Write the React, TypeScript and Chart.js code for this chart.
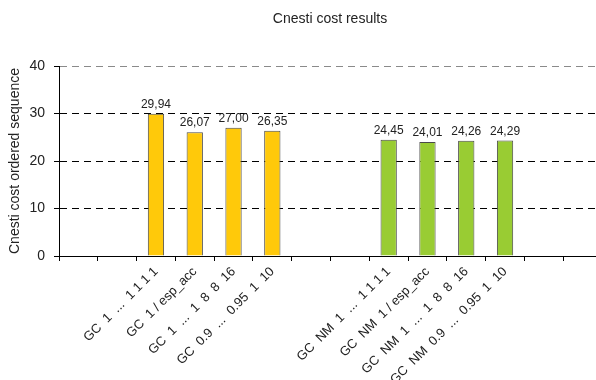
import React, { useEffect, useRef } from "react";
import { Chart, registerables } from "chart.js";

Chart.register(...registerables);

const categories: string[] = [
  "",
  "",
  "GC  1  ...  1 1 1 1",
  "GC  1 / esp_acc",
  "GC  1  ...  1  8  8  16",
  "GC  0.9  ...  0.95  1  10",
  "",
  "",
  "GC  NM  1  ...  1 1 1 1",
  "GC  NM  1 / esp_acc",
  "GC  NM  1  ...  1  8  8  16",
  "GC  NM  0.9  ...  0.95  1  10",
  "",
  "",
];

const gcValues: (number | null)[] = [null, null, 29.94, 26.07, 27.0, 26.35, null, null, null, null, null, null, null, null];
const gcNmValues: (number | null)[] = [null, null, null, null, null, null, null, null, 24.45, 24.01, 24.26, 24.29, null, null];
const yTicks: number[] = [0, 10, 20, 30, 40];

const title = "Cnesti cost results";
const yTitle = "Cnesti cost ordered sequence";

const FONT = "'Liberation Sans', Arial, sans-serif";

const valueLabels = {
  id: "valueLabels",
  afterDatasetsDraw(chart: any) {
    const ctx = chart.ctx;
    ctx.save();
    ctx.font = `12px ${FONT}`;
    ctx.fillStyle = "#222";
    ctx.textAlign = "center";
    ctx.textBaseline = "alphabetic";
    chart.data.datasets.forEach((ds: any, di: number) => {
      const meta = chart.getDatasetMeta(di);
      meta.data.forEach((el: any, i: number) => {
        const v = ds.data[i];
        if (v === null || v === undefined) return;
        ctx.fillText(v.toFixed(2).replace(".", ","), el.x, el.y - 6);
      });
    });
    ctx.restore();
  },
};

export default function App() {
  const ref = useRef<HTMLCanvasElement>(null);
  useEffect(() => {
    if (!ref.current) return;
    const chart = new Chart(ref.current, {
      type: "bar",
      data: {
        labels: categories,
        datasets: [
          {
            data: gcValues,
            backgroundColor: "#FFC90A",
            borderColor: "#4a4a4a",
            borderWidth: 1,
            barPercentage: 0.42,
            categoryPercentage: 1,
            skipNull: true,
          } as any,
          {
            data: gcNmValues,
            backgroundColor: "#99CC33",
            borderColor: "#4a4a4a",
            borderWidth: 1,
            barPercentage: 0.42,
            categoryPercentage: 1,
            skipNull: true,
          } as any,
        ],
      },
      options: {
        animation: false,
        responsive: false,
        layout: { padding: { left: 0, right: 0, top: 0, bottom: 0 } },
        plugins: {
          legend: { display: false },
          tooltip: { enabled: false },
          title: {
            display: true,
            text: title,
            color: "#222",
            font: { family: FONT, size: 14, weight: "normal" },
            padding: { top: 11, bottom: 38.2 },
          },
        },
        scales: {
          x: {
            grid: {
              display: true,
              drawOnChartArea: false,
              drawTicks: true,
              tickLength: 5,
              color: "#000",
              offset: true,
            },
            border: { display: true, color: "#000", width: 1 },
            ticks: {
              autoSkip: false,
              maxRotation: 45,
              minRotation: 45,
              color: "#222",
              padding: 3,
              font: { family: FONT, size: 13 },
            },
            afterFit(scale: any) {
              scale.height = 124;
            },
          },
          y: {
            min: 0,
            max: 40,
            afterBuildTicks(scale: any) {
              scale.ticks = yTicks.map((v) => ({ value: v }));
            },
            grid: {
              color: (c: any) => (c.tick && c.tick.value === 40 ? "#8a8a8a" : "#000"),
              tickColor: "#000",
              tickLength: 5,
              tickBorderDash: [],
            },
            border: { display: true, color: "#000", width: 1, dash: [7, 5] },
            ticks: {
              color: "#222",
              padding: 9,
              font: { family: FONT, size: 14 },
            },
            title: {
              display: true,
              text: yTitle,
              color: "#222",
              font: { family: FONT, size: 14 },
              padding: { top: 6.6, bottom: 0 },
            },
            afterFit(scale: any) {
              scale.width = 59;
            },
          },
          spacer: {
            type: "linear",
            position: "right",
            display: true,
            min: 0,
            max: 40,
            grid: { display: false, drawOnChartArea: false, drawTicks: false },
            border: { display: false },
            ticks: { display: false },
            afterFit(scale: any) {
              scale.width = 58;
            },
          },
        },
      } as any,
      plugins: [valueLabels],
    });
    return () => chart.destroy();
  }, []);
  return (
    <div style={{ position: "fixed", left: 0, top: 0, width: 596, height: 380, overflow: "hidden", background: "#fff" }}>
      <canvas ref={ref} width={660} height={380} style={{ display: "block" }} />
    </div>
  );
}
